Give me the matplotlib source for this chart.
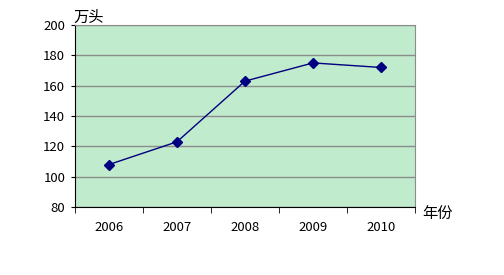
import numpy as np
import matplotlib.pyplot as plt

plt.rcParams['font.family'] = ['Noto Sans CJK SC', 'DejaVu Sans']

years = ['2006', '2007', '2008', '2009', '2010']
values = [108, 123, 163, 175, 172]

fig = plt.figure(figsize=(5.04, 2.75), dpi=100)
ax = fig.add_axes([75/504, 68/275, 340/504, 182/275])
ax.set_facecolor('#C0EBCC')

x = np.arange(len(years))
ax.plot(x, values, color='#000080', lw=1, marker='D', ms=5, mfc='#000080', mec='#000080')

ax.set_xlim(-0.5, len(years) - 0.5)
ax.set_ylim(80, 200)
ax.set_yticks(range(80, 201, 20))
ax.set_xticks(x)
ax.set_xticklabels(years)
ax.set_xticks(np.arange(-0.5, len(years)), minor=True)
ax.tick_params(axis='x', which='major', length=0, pad=10, labelsize=9.5)
ax.tick_params(axis='x', which='minor', length=4, direction='out', color='black')
ax.tick_params(axis='y', length=3, direction='out', labelsize=9.5, pad=4)

ax.grid(axis='y', color='#8c8c8c', lw=1)
ax.set_axisbelow(True)
for s in ['top', 'right']:
    ax.spines[s].set_color('#8c8c8c')
for s in ['left', 'bottom']:
    ax.spines[s].set_color('black')

fig.text(73/504, 1 - 17/275, '万头', fontsize=11, va='center', ha='left')
fig.text(422/504, 1 - 213/275, '年份', fontsize=11, va='center', ha='left')

fig.savefig('out.png', dpi=100)
